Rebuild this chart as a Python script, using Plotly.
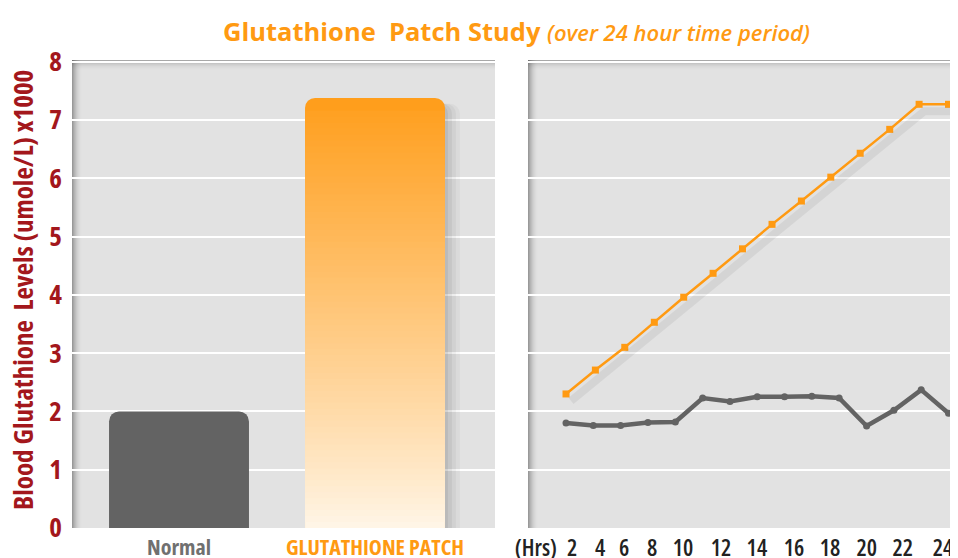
import plotly.graph_objects as go

# ---------------- data ----------------
bar_categories = ["Normal", "GLUTATHIONE PATCH"]
bar_values = [2.0, 7.38]

gray_hours = [2.0, 3.57, 5.14, 6.71, 8.29, 9.86, 11.43, 13.0, 14.57, 16.14, 17.71, 19.29, 20.86, 22.43, 24.0]
gray_values = [1.80, 1.76, 1.76, 1.81, 1.82, 2.23, 2.17, 2.25, 2.25, 2.26, 2.23, 1.75, 2.02, 2.37, 1.97]

orange_hours = [2.0, 3.69, 5.38, 7.08, 8.77, 10.46, 12.15, 13.85, 15.54, 17.23, 18.92, 20.62, 22.31, 24.0]
orange_values = [2.30, 2.71, 3.10, 3.53, 3.96, 4.37, 4.79, 5.21, 5.61, 6.02, 6.43, 6.84, 7.27, 7.27]

hour_tick_labels = ["(Hrs)", "2", "4", "6", "8", "10", "12", "14", "16", "18", "20", "22", "24"]
hour_tick_pos = [0.27, 2.35, 3.96, 5.34, 6.95, 8.73, 10.91, 12.98, 15.11, 17.18, 19.30, 21.37, 23.68]

y_ticks = [0, 1, 2, 3, 4, 5, 6, 7, 8]

title_main = "Glutathione\u00a0\u00a0Patch Study"
title_sub = "(over 24 hour time period)"
y_title = "Blood Glutathione\u00a0\u00a0Levels (umole/L) x1000"

# ---------------- style ----------------
FONT = "Open Sans"
ORANGE = "#FF9A12"
DARKRED = "#A3171C"
GRAY = "#636363"
BG = "#E2E2E2"
BAR_W = 0.714
PX_PER_CAT = 196.0
PX_PER_HR = 17.386
PX_PER_Y = 58.3
YMAX = 8.03
X2_RANGE = [-0.186, 24.259]


def cond(text, stretch="78%", extra=""):
    return f'<span style="font-stretch:{stretch};{extra}">{text}</span>'


fig = go.Figure()

fig.add_trace(go.Bar(
    x=[bar_categories[0]], y=[bar_values[0]], width=BAR_W,
    marker=dict(color=GRAY, line=dict(width=0), cornerradius=10),
    xaxis="x", yaxis="y", hoverinfo="skip", showlegend=False))

for dpx, a in [(15, 0.03), (11, 0.04), (7, 0.05), (3, 0.06)]:
    fig.add_trace(go.Bar(
        x=[bar_categories[1]], y=[bar_values[1] - 0.1], width=BAR_W,
        offset=-BAR_W / 2 + dpx / PX_PER_CAT,
        marker=dict(color=f"rgba(0,0,0,{a})", line=dict(width=0), cornerradius=10),
        xaxis="x", yaxis="y", hoverinfo="skip", showlegend=False))

top_c = (255, 158, 28)
bot_c = (255, 246, 232)
fig.add_trace(go.Bar(
    x=[bar_categories[1]], y=[bar_values[1]], width=BAR_W,
    marker=dict(color="rgb(%d,%d,%d)" % top_c, line=dict(width=0), cornerradius=10),
    xaxis="x", yaxis="y", hoverinfo="skip", showlegend=False))

n_seg = 70
grad_top = bar_values[1] - 0.22
seg_h = grad_top / n_seg
bases, heights, colors = [], [], []
for i in range(n_seg):
    b = i * seg_h
    t = (b + seg_h / 2) / bar_values[1]
    tt = t ** 0.9
    c = tuple(int(round(bot_c[j] + (top_c[j] - bot_c[j]) * tt)) for j in range(3))
    bases.append(b)
    heights.append(seg_h * (2.0 if i < n_seg - 1 else 1.0))
    colors.append("rgb(%d,%d,%d)" % c)
fig.add_trace(go.Bar(
    x=[bar_categories[1]] * n_seg, y=heights, base=bases, width=BAR_W,
    marker=dict(color=colors, line=dict(width=0), cornerradius=0),
    xaxis="x", yaxis="y", hoverinfo="skip", showlegend=False))

dx, dy = 5, 7
fig.add_trace(go.Scatter(
    x=orange_hours, y=orange_values, mode="lines",
    line=dict(color="rgba(0,0,0,0.06)", width=8),
    xaxis="x3", yaxis="y3", hoverinfo="skip", showlegend=False))

fig.add_trace(go.Scatter(
    x=gray_hours, y=gray_values, mode="lines+markers",
    line=dict(color=GRAY, width=4.5),
    marker=dict(color=GRAY, size=7, symbol="circle"),
    xaxis="x2", yaxis="y2", hoverinfo="skip", showlegend=False))

fig.add_trace(go.Scatter(
    x=orange_hours, y=orange_values, mode="lines+markers",
    line=dict(color=ORANGE, width=2.5),
    marker=dict(color=ORANGE, size=7, symbol="square"),
    xaxis="x2", yaxis="y2", hoverinfo="skip", showlegend=False))

# ---------------- layout ----------------
OFF = 8  # page body margin
L, R, T, B = 72 - OFF, 5, 60 - OFF, 30
W, H = 958 - OFF, 558 - OFF
plot_w = W - L - R
plot_h = H - T - B
d1 = (495 - 72) / plot_w
d2 = (528 - 72) / plot_w

fig.update_layout(
    width=W, height=H,
    margin=dict(l=L, r=R, t=T, b=B, pad=0, autoexpand=False),
    paper_bgcolor="white", plot_bgcolor=BG,
    barmode="overlay",
    font=dict(family=FONT),
    xaxis=dict(domain=[0, d1], type="category",
               categoryorder="array", categoryarray=bar_categories,
               range=[-(179 - 72) / PX_PER_CAT, 1 + (495 - 375) / PX_PER_CAT],
               tickvals=bar_categories,
               ticktext=[cond(bar_categories[0], extra="color:#707070"),
                         cond(bar_categories[1], extra="color:%s" % ORANGE)],
               tickfont=dict(family=FONT, size=22, weight=700),
               showgrid=False, zeroline=False, showline=False, ticks="",
               ticklabelstandoff=4, automargin=False, anchor="y", fixedrange=True),
    yaxis=dict(domain=[0, 1], range=[0, YMAX], tickvals=y_ticks,
               ticktext=[cond(str(v)) for v in y_ticks],
               tickfont=dict(family=FONT, size=27, color=DARKRED, weight=700),
               showgrid=True, gridcolor="white", gridwidth=1.5,
               zeroline=False, showline=False, ticks="", ticklabelstandoff=9,
               automargin=False, anchor="x"),
    xaxis2=dict(domain=[d2, 1], range=X2_RANGE,
                tickvals=hour_tick_pos, ticktext=[cond(s) for s in hour_tick_labels],
                tickfont=dict(family=FONT, size=23, color="#222222", weight=600),
                showgrid=False, zeroline=False, showline=False, ticks="",
                ticklabelstandoff=4, automargin=False, anchor="y2"),
    yaxis2=dict(domain=[0, 1], range=[0, YMAX], tickvals=y_ticks,
                showticklabels=False, showgrid=True, gridcolor="white", gridwidth=1.5,
                zeroline=False, showline=False, ticks="", automargin=False, anchor="x2"),
    xaxis3=dict(overlaying="x2", range=[X2_RANGE[0] - dx / PX_PER_HR, X2_RANGE[1] - dx / PX_PER_HR],
                visible=False, anchor="y3"),
    yaxis3=dict(overlaying="y2", range=[dy / PX_PER_Y, YMAX + dy / PX_PER_Y],
                visible=False, anchor="x3"),
)

fig.add_annotation(
    xref="paper", yref="paper", x=(516 - 72) / plot_w, y=1 + (60 - 31) / plot_h,
    xanchor="center", yanchor="middle", showarrow=False,
    text=('<b>%s</b>' % title_main + ' ' +
          '<i><span style="font-size:22px;font-weight:600">%s</span></i>' % title_sub),
    font=dict(family=FONT, size=25.5, color=ORANGE))

fig.add_annotation(
    xref="paper", yref="paper", x=(22 - 72) / plot_w, y=(528 - 290) / plot_h,
    xanchor="center", yanchor="middle", showarrow=False, textangle=-90,
    text=cond('<b>%s</b>' % y_title),
    font=dict(family=FONT, size=27, color=DARKRED))

shapes = []
for xr, yr in (("x domain", "y domain"), ("x2 domain", "y2 domain")):
    for i in range(10):
        a = 0.32 * (1 - i / 10) ** 2
        shapes.append(dict(type="rect", xref=xr, yref=yr, layer="below",
                           xsizemode="pixel", xanchor=0, x0=i, x1=i + 1, y0=0, y1=1,
                           line=dict(width=0), fillcolor=f"rgba(0,0,0,{a:.3f})"))
        shapes.append(dict(type="rect", xref=xr, yref=yr, layer="below",
                           ysizemode="pixel", yanchor=1, y0=-i - 1, y1=-i, x0=0, x1=1,
                           line=dict(width=0), fillcolor=f"rgba(0,0,0,{a * 0.8:.3f})"))
fig.update_layout(shapes=shapes)

fig.write_html("out.html")
